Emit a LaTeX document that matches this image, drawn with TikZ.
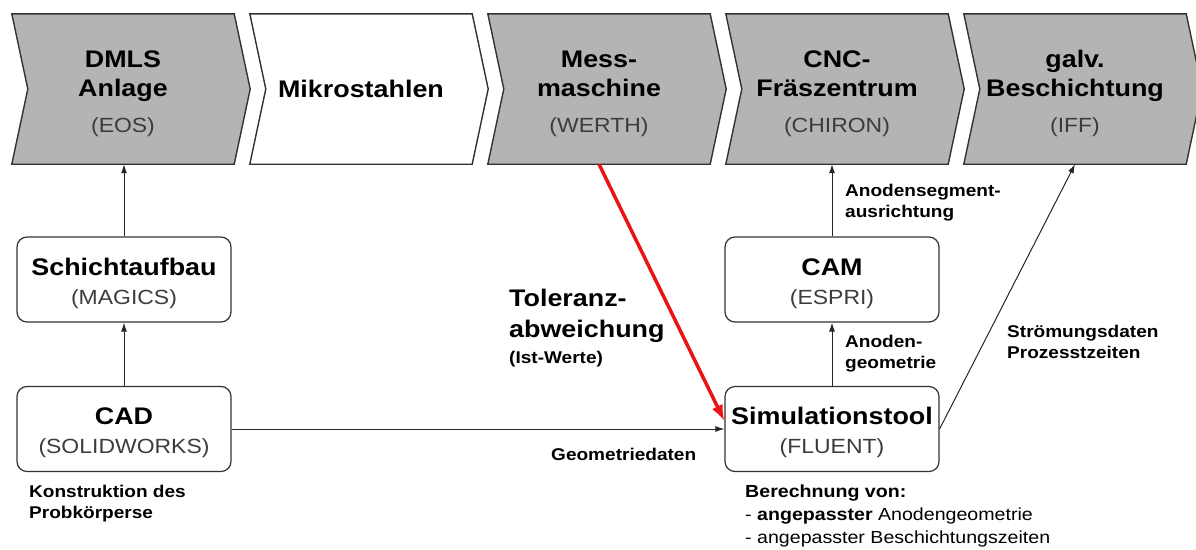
\documentclass[tikz,border=0pt]{standalone}
\usepackage{fontspec}
\setmainfont{Liberation Sans}[FakeStretch=1.12]
\usetikzlibrary{arrows.meta,backgrounds}

\definecolor{chevfill}{RGB}{180,180,180}
\definecolor{edgegray}{RGB}{50,50,50}
\definecolor{subgray}{RGB}{60,60,60}
\definecolor{flowred}{RGB}{235,20,20}

% type sizes
\newcommand\headfont{\fontsize{24}{29}\selectfont\bfseries}
\newcommand\subfont{\fontsize{20.5}{24}\selectfont\mdseries\color{subgray}}
\newcommand\lblfont{\fontsize{17}{21.5}\selectfont\bfseries}
% struts that keep the first line of a stage / tool box at a fixed height
\newcommand\stagestrut{\rule{0pt}{27pt}}
\newcommand\toolstrut{\rule{0pt}{25pt}}

% chevron outline drawn round a stage node
\newcommand\drawchevron[2]{%
  \path[#2] (#1.north west) -- (#1.north east) -- ([xshift=16pt]#1.east)
    -- (#1.south east) -- (#1.south west) -- ([xshift=16pt]#1.west) -- cycle;}

\begin{document}
\begin{tikzpicture}[x=1pt,y=-1pt,
  stage/.style={minimum width=222pt,minimum height=150pt,inner sep=0pt,
    align=center,font=\headfont},
  chev/.style={fill=chevfill,draw=edgegray,line width=1.4pt},
  chevplain/.style={fill=white,draw=edgegray,line width=1.4pt},
  tool/.style={draw=edgegray,line width=1.2pt,rounded corners=10pt,
    minimum width=214pt,minimum height=85pt,inner sep=0pt,align=center,
    font=\headfont},
  flow/.style={-{Latex[length=9pt,width=6pt]},line width=1pt,draw=black!85},
  redflow/.style={-{Latex[length=16pt,width=12pt]},line width=3.5pt,draw=flowred},
  lbl/.style={inner sep=0pt,align=left,font=\lblfont},
]
\useasboundingbox (0,0) rectangle (1196,549);

% process chain
\node[stage] (c1) at (123,89) {\stagestrut DMLS\\Anlage\\[7pt]{\subfont (EOS)}};
\node[stage] (c2) at (361,89) {Mikrostahlen};
\node[stage] (c3) at (599,89) {\stagestrut Mess-\\maschine\\[7pt]{\subfont (WERTH)}};
\node[stage] (c4) at (837,89) {\stagestrut CNC-\\Fräszentrum\\[7pt]{\subfont (CHIRON)}};
\node[stage] (c5) at (1075,89) {\stagestrut galv.\\Beschichtung\\[7pt]{\subfont (IFF)}};

\begin{scope}[on background layer]
  \drawchevron{c1}{chev}
  \drawchevron{c2}{chevplain}
  \drawchevron{c3}{chev}
  \drawchevron{c4}{chev}
  \drawchevron{c5}{chev}
\end{scope}

% software tools
\node[tool] (schicht) at (124,279.5) {\toolstrut Schichtaufbau\\{\subfont (MAGICS)}};
\node[tool] (cad) at (124,429) {\toolstrut CAD\\{\subfont (SOLIDWORKS)}};
\node[tool] (cam) at (832,279.5) {\toolstrut CAM\\{\subfont (ESPRI)}};
\node[tool] (sim) at (832,429) {\toolstrut Simulationstool\\{\subfont (FLUENT)}};

% data flow
\draw[flow] (cad.north) -- (schicht.south);
\draw[flow] (schicht.north) -- (schicht.north |- c1.south);
\draw[flow] (cad.east) -- (sim.west);
\draw[flow] (sim.north) -- (cam.south);
\draw[flow] (cam.north) -- (cam.north |- c4.south);
\draw[flow] (sim.east) -- (c5.south);
\draw[redflow] (c3.south) -- ([yshift=8pt]sim.west);

% annotations
\node[lbl,anchor=north west] (lseg) at (845,183.6) {Anodensegment-\\ausrichtung};
\node[lbl,anchor=north west] (lgeo) at (845,334.6) {Anoden-\\geometrie};
\node[lbl,anchor=north west] (lstr) at (1007,324.6) {Strömungsdaten\\Prozesstzeiten};
\node[lbl,anchor=north west] (lkon) at (29,484.6) {Konstruktion des\\Probkörperse};
\node[lbl,anchor=base west] (lgd) at (551,460) {Geometriedaten};
\node[lbl,anchor=north west,font=\fontsize{24}{31}\selectfont\bfseries] (ltol) at (509,288.8)
  {Toleranz-\\abweichung\\[-5pt]{\lblfont (Ist-Werte)}};
\node[lbl,anchor=north west,font=\fontsize{17.5}{23}\selectfont\mdseries] (lber) at (745,484.4)
  {\textbf{Berechnung von:}\\- \textbf{angepasster} Anodengeometrie\\- angepasster Beschichtungszeiten};
\end{tikzpicture}
\end{document}
